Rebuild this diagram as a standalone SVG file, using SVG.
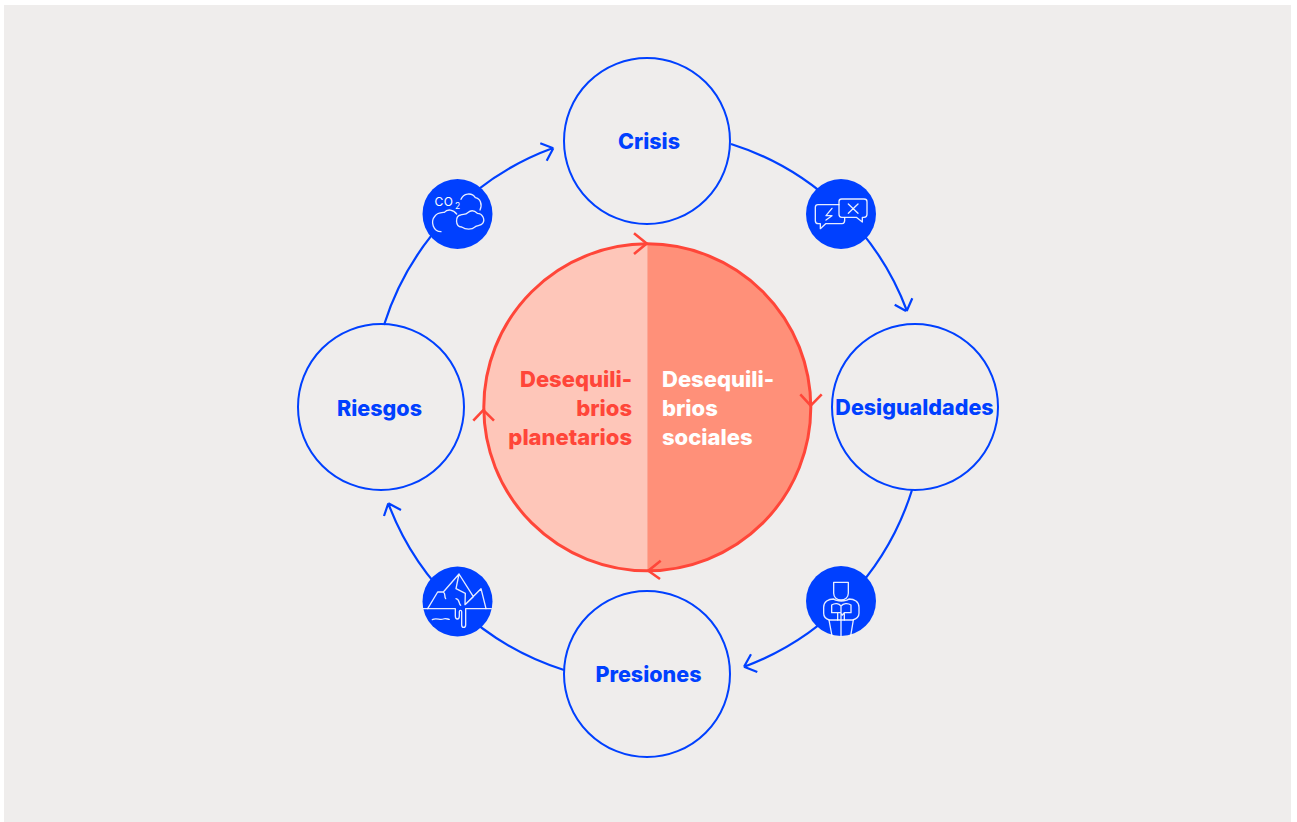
<svg xmlns="http://www.w3.org/2000/svg" width="1297" height="822" viewBox="0 0 1297 822">
<style>
.n{fill:none;stroke:#0040ff;stroke-width:2}
.c{fill:none;stroke:#0040ff;stroke-width:2.200}
.a{fill:none;stroke:#ff4639;stroke-width:2.600}
.t{font-family:"Inter","Liberation Sans",sans-serif;font-weight:800;font-size:22px}
.m{font-size:21.500px}
.b{fill:#0040ff;text-anchor:middle}
.dot{fill:#0040ff}
.i{fill:none;stroke:#fff;stroke-width:4;stroke-linejoin:round;stroke-linecap:round;opacity:.9}
</style>
<rect width="1297" height="822" fill="#fff"/>
<rect x="4" y="5" width="1287" height="817" fill="#efedec"/>
<g id="connectors">
<path class="c" d="M731 144A277 277 0 0 1 907 311M906 311L894.700 304.700M906.700 311L912.300 298.300"/>
<path class="c" d="M912 490A277 277 0 0 1 745 666.500M744 666.700L751 654.300M744 666.700L757.300 672"/>
<path class="c" d="M564 670A277 277 0 0 1 388.500 504M388.300 503.300L384 516M388.300 503.300L401 510"/>
<path class="c" d="M384 325A277 277 0 0 1 553 148M553.300 148.300L540.300 143.300M553.300 148.300L546.700 160.700"/>
</g>
<g id="centro">
<path d="M647.300 243.800A163.500 163.500 0 0 0 647.300 570.800Z" fill="#fec6b9"/>
<path d="M647.300 243.800A163.500 163.500 0 0 1 647.300 570.800Z" fill="#ff9079"/>
<circle cx="647.300" cy="407.300" r="163.500" fill="none" stroke="#ff4639" stroke-width="3"/>
<path class="a" d="M634 233.300L646.700 243.500L634 254M800.300 394.300L810.700 405.700L821.700 394.300M660.700 560.700L648.300 570.700L660 579M473.300 420.700L483.300 410L494 420.700"/>
<text class="t" fill="#ff4639" text-anchor="end"><tspan x="632" y="387">Desequili-</tspan><tspan x="632" y="416">brios</tspan><tspan x="632" y="445">planetarios</tspan></text>
<text class="t" fill="#fff"><tspan x="662" y="387">Desequili-</tspan><tspan x="662" y="416">brios</tspan><tspan x="662" y="445">sociales</tspan></text>
</g>
<g id="crisis"><circle class="n" cx="647" cy="141" r="83"/><text class="t m b" x="649" y="149">Crisis</text></g>
<g id="desigualdades"><circle class="n" cx="915" cy="407" r="83"/><text class="t m b" x="914.500" y="415">Desigualdades</text></g>
<g id="presiones"><circle class="n" cx="647" cy="674" r="83"/><text class="t m b" x="648.500" y="682">Presiones</text></g>
<g id="riesgos"><circle class="n" cx="381" cy="407" r="83"/><text class="t m b" x="379.500" y="416">Riesgos</text></g>
<g id="icono-co2">
<circle class="dot" cx="457.500" cy="214" r="35"/>
<g transform="translate(400 130) scale(.33333)">
<path class="i" d="M183 208C190 190 215 186 226 203C240 205 248 222 240 240M123 305C100 305 90 275 105 258C112 248 125 248 133 247C142 236 160 238 170 252M185 291C165 290 165 258 182 255C190 252 197 254 203 248C215 238 225 243 232 250C248 250 256 270 248 280C243 287 232 286 226 290C215 300 197 299 185 291Z"/>
</g>
<text x="434.500" y="206" font-family="Inter,'Liberation Sans',sans-serif" font-size="12" fill="#fff" letter-spacing=".6">CO</text>
<text x="455" y="208.500" font-family="Inter,'Liberation Sans',sans-serif" font-size="8.500" fill="#fff">2</text>
</g>
<g id="icono-dialogo">
<circle class="dot" cx="841" cy="214" r="35"/>
<g transform="translate(790 130) scale(.33333)">
<path class="i" d="M147 224H84C78 224 76 228 76 232V272C76 278 80 281 85 281H91V296L107 281H156C162 281 165 276 164 264"/>
<path class="i" d="M155 207H222C228 207 231 210 231 215V253C231 259 227 262 222 262H217V276L199 262H155C150 262 147 259 147 253V215C147 210 150 207 155 207Z"/>
<path class="i" d="M175 222L204 250M204 222L175 250M126 235L108 257H126L108 270"/>
</g>
</g>
<g id="icono-persona">
<circle class="dot" cx="841" cy="601" r="35"/>
<g transform="translate(735 550) scale(.33333)">
<path class="i" d="M296 97H340V130C340 142 330 150 318 150C306 150 296 142 296 130ZM296 147C280 147 266 155 266 172V190C266 200 272 207 283 210H353C364 207 372 200 372 190V172C372 155 358 147 342 147C332 155 306 155 296 147Z"/>
<path class="i" d="M290 165C300 158 312 160 318 168C325 160 338 158 348 165V188H328L322 195L316 188H290ZM318 168V258M282 210L291 258M355 210L347 258M308 190V210M328 190V210"/>
</g>
</g>
<g id="icono-iceberg">
<circle class="dot" cx="457.500" cy="601.500" r="35"/>
<g transform="translate(380 490) scale(.33333)">
<path class="i" d="M130 356H226V378C226 390 238 390 238 378V365C238 360 245 360 245 365V404C245 415 257 415 257 404V356H334"/>
<path class="i" d="M143 356L173 306H190L237 252L280 320L255 344L303 296L318 356M237 252L228 296L256 310L255 344M190 306C198 312 192 320 197 326M228 326C240 328 235 340 242 346M157 389C170 382 180 392 190 387C197 384 203 388 208 388"/>
</g>
</g>
</svg>
